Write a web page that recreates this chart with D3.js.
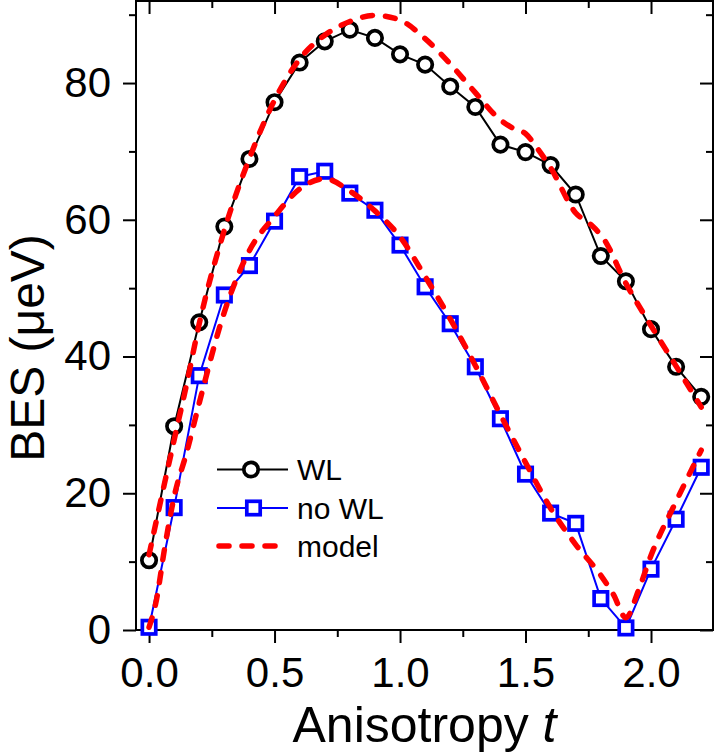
<!DOCTYPE html>
<html>
<head>
<meta charset="utf-8">
<script src="https://cdn.jsdelivr.net/npm/d3@7"></script>
<style>
  body { margin: 0; background: #fff; }
  svg { display: block; font-family: 'Liberation Sans', Arial, sans-serif; }
</style>
</head>
<body>
<svg class="graph"></svg>
<script>
// Data
var tValues = [0, 0.1, 0.2, 0.3, 0.4, 0.5, 0.6, 0.7, 0.8, 0.9, 1.0, 1.1,
  1.2, 1.3, 1.4, 1.5, 1.6, 1.7, 1.8, 1.9, 2.0, 2.1, 2.2]
var wlValues = [10.2, 29.8, 45.0, 59.0, 68.9, 77.2, 83.0, 86.1, 87.8, 86.6, 84.2, 82.7,
  79.5, 76.5, 71.0, 69.9, 68.0, 63.7, 54.7, 51.0, 44.0, 38.5, 34.1]
var noWlValues = [0.4, 17.9, 37.2, 49.0, 53.3, 59.8, 66.3, 67.1, 63.9, 61.4, 56.3, 50.2,
  44.8, 38.5, 30.9, 22.8, 17.1, 15.6, 4.6, 0.3, 8.9, 16.2, 23.8]

var modelWlT = [0, 0.05, 0.1, 0.15, 0.2, 0.3, 0.4, 0.5, 0.6, 0.7, 0.8, 0.9, 1.0, 1.1,
  1.2, 1.3, 1.4, 1.45, 1.5, 1.55, 1.6, 1.7, 1.76, 1.81, 1.9, 2.0, 2.1, 2.2]
var modelWlValues = [11.0, 19.5, 27.8, 36.0, 44.8, 58.5, 69.0, 77.5, 83.5, 87.0, 89.0, 89.9, 89.2, 86.5,
  82.8, 78.6, 74.6, 73.4, 72.6, 70.3, 67.6, 61.0, 59.3, 57.3, 50.7, 44.5, 38.6, 32.6]

var modelNoWlT = [0, 0.03, 0.06, 0.1, 0.15, 0.2, 0.3, 0.4, 0.5, 0.6, 0.7, 0.8, 0.9, 1.0, 1.1,
  1.2, 1.3, 1.4, 1.5, 1.6, 1.7, 1.8, 1.85, 1.9, 1.95, 2.0, 2.1, 2.2]
var modelNoWlValues = [0.4, 4.5, 11.5, 19.5, 26.0, 33.2, 46.5, 55.5, 60.5, 64.5, 66.0, 64.2, 61.3, 57.5, 51.7,
  45.5, 38.7, 31.5, 24.5, 17.8, 12.5, 8.0, 5.2, 1.8, 5.8, 10.9, 18.8, 26.3]

var xMajor = [0, 0.5, 1.0, 1.5, 2.0]
var xMinor = [0.25, 0.75, 1.25, 1.75]
var yMajor = [0, 20, 40, 60, 80]
var yMinor = [10, 30, 50, 70, 90]

var legendLabels = ['WL', 'no WL', 'model']

var conf = {
  width: 714,
  height: 753,
  left: 136,
  right: 713,
  top: 1,
  bottom: 630,
  majorTick: 13,
  minorTick: 7
}

var graph = d3.select('.graph')
  .attr('width', conf.width)
  .attr('height', conf.height)

var x = d3.scaleLinear()
  .domain([-0.052, 2.247])
  .range([conf.left, conf.right])

var y = d3.scaleLinear()
  .domain([0, 92])
  .range([conf.bottom, conf.top])

// Axes: outward ticks bottom/left, inward ticks top/right
function drawAxis (axis, transform, values, size, labels) {
  var g = graph.append('g')
    .attr('transform', transform)
    .call(axis.tickValues(values).tickSize(size).tickPadding(8)
      .tickFormat(labels ? labels : ''))
  g.select('.domain').remove()
  g.selectAll('line').attr('stroke', '#000').attr('stroke-width', 2)
  g.selectAll('text')
    .attr('fill', '#000')
    .style('font-size', '42px')
  return g
}

drawAxis(d3.axisBottom(x), 'translate(0,' + conf.bottom + ')', xMajor, conf.majorTick, d3.format('.1f'))
  .selectAll('text').attr('dy', '0.86em')
drawAxis(d3.axisBottom(x), 'translate(0,' + conf.bottom + ')', xMinor, conf.minorTick)
drawAxis(d3.axisTop(x), 'translate(0,' + conf.top + ')', xMajor, -conf.majorTick)
drawAxis(d3.axisTop(x), 'translate(0,' + conf.top + ')', xMinor, -conf.minorTick)

drawAxis(d3.axisLeft(y), 'translate(' + conf.left + ',0)', yMajor, conf.majorTick, d3.format('d'))
  .selectAll('text').attr('dx', '-4px')
drawAxis(d3.axisLeft(y), 'translate(' + conf.left + ',0)', yMinor, conf.minorTick)
drawAxis(d3.axisRight(y), 'translate(' + conf.right + ',0)', yMajor, -conf.majorTick)
drawAxis(d3.axisRight(y), 'translate(' + conf.right + ',0)', yMinor, -conf.minorTick)

// Frame
graph.append('rect')
  .attr('x', conf.left)
  .attr('y', conf.top)
  .attr('width', conf.right - conf.left)
  .attr('height', conf.bottom - conf.top)
  .attr('fill', 'none')
  .attr('stroke', '#000')
  .attr('stroke-width', 2)

// Axis titles
var xTitle = graph.append('text')
  .attr('x', (conf.left + conf.right) / 2)
  .attr('y', 742)
  .attr('text-anchor', 'middle')
  .style('font-size', '50px')
xTitle.append('tspan').text('Anisotropy ')
xTitle.append('tspan').style('font-style', 'italic').text('t')

graph.append('text')
  .attr('transform', 'translate(44,348) rotate(-90)')
  .attr('text-anchor', 'middle')
  .style('font-size', '48px')
  .text('BES (μeV)')

var line = d3.line()
  .x(function (d) { return x(d[0]) })
  .y(function (d) { return y(d[1]) })

var wlData = d3.zip(tValues, wlValues)
var noWlData = d3.zip(tValues, noWlValues)

// Series: WL
graph.append('path')
  .datum(wlData)
  .attr('d', line)
  .attr('fill', 'none')
  .attr('stroke', '#000')
  .attr('stroke-width', 2)

graph.selectAll('circle.wl')
  .data(wlData)
  .enter()
    .append('circle')
    .attr('class', 'wl')
    .attr('cx', function (d) { return x(d[0]) })
    .attr('cy', function (d) { return y(d[1]) })
    .attr('r', 7.2)
    .attr('fill', '#fff')
    .attr('stroke', '#000')
    .attr('stroke-width', 3.7)

// Series: no WL
graph.append('path')
  .datum(noWlData)
  .attr('d', line)
  .attr('fill', 'none')
  .attr('stroke', '#0000ff')
  .attr('stroke-width', 2)

graph.selectAll('rect.nowl')
  .data(noWlData)
  .enter()
    .append('rect')
    .attr('class', 'nowl')
    .attr('x', function (d) { return x(d[0]) - 6.7 })
    .attr('y', function (d) { return y(d[1]) - 6.7 })
    .attr('width', 13.4)
    .attr('height', 13.4)
    .attr('fill', '#fff')
    .attr('stroke', '#0000ff')
    .attr('stroke-width', 3.7)

// Model curves
var smooth = d3.line()
  .x(function (d) { return x(d[0]) })
  .y(function (d) { return y(d[1]) })
  .curve(d3.curveMonotoneX)

;[d3.zip(modelWlT, modelWlValues), d3.zip(modelNoWlT, modelNoWlValues)].forEach(function (data) {
  graph.append('path')
    .datum(data)
    .attr('d', smooth)
    .attr('fill', 'none')
    .attr('stroke', '#ff0000')
    .attr('stroke-width', 5.5)
    .attr('stroke-linecap', 'round')
    .attr('stroke-dasharray', '10,13')
})

// Legend
var legend = graph.append('g')
  .attr('class', 'legend')

var rows = legend.selectAll('g.row')
  .data(legendLabels)
  .enter()
    .append('g')
    .attr('class', 'row')
    .attr('transform', function (d, i) {
      return 'translate(217,' + [469.5, 508, 546][i] + ')'
    })

rows.append('line')
  .attr('x1', function (d, i) { return i === 2 ? 2 : 0 })
  .attr('x2', 71)
  .attr('stroke', function (d, i) { return ['#000', '#0000ff', '#ff0000'][i] })
  .attr('stroke-width', function (d, i) { return i === 2 ? 5.5 : 2 })
  .attr('stroke-linecap', function (d, i) { return i === 2 ? 'round' : 'butt' })
  .attr('stroke-dasharray', function (d, i) { return i === 2 ? '10,13' : null })

rows.filter(function (d, i) { return i === 0 })
  .append('circle')
  .attr('cx', 34)
  .attr('r', 7.2)
  .attr('fill', '#fff')
  .attr('stroke', '#000')
  .attr('stroke-width', 3.7)

rows.filter(function (d, i) { return i === 1 })
  .append('rect')
  .attr('x', 36.5 - 6.7)
  .attr('y', -6.7)
  .attr('width', 13.4)
  .attr('height', 13.4)
  .attr('fill', '#fff')
  .attr('stroke', '#0000ff')
  .attr('stroke-width', 3.7)

rows.append('text')
  .attr('x', 80)
  .attr('dy', '0.36em')
  .style('font-size', '30px')
  .text(function (d) { return d })
</script>
</body>
</html>
